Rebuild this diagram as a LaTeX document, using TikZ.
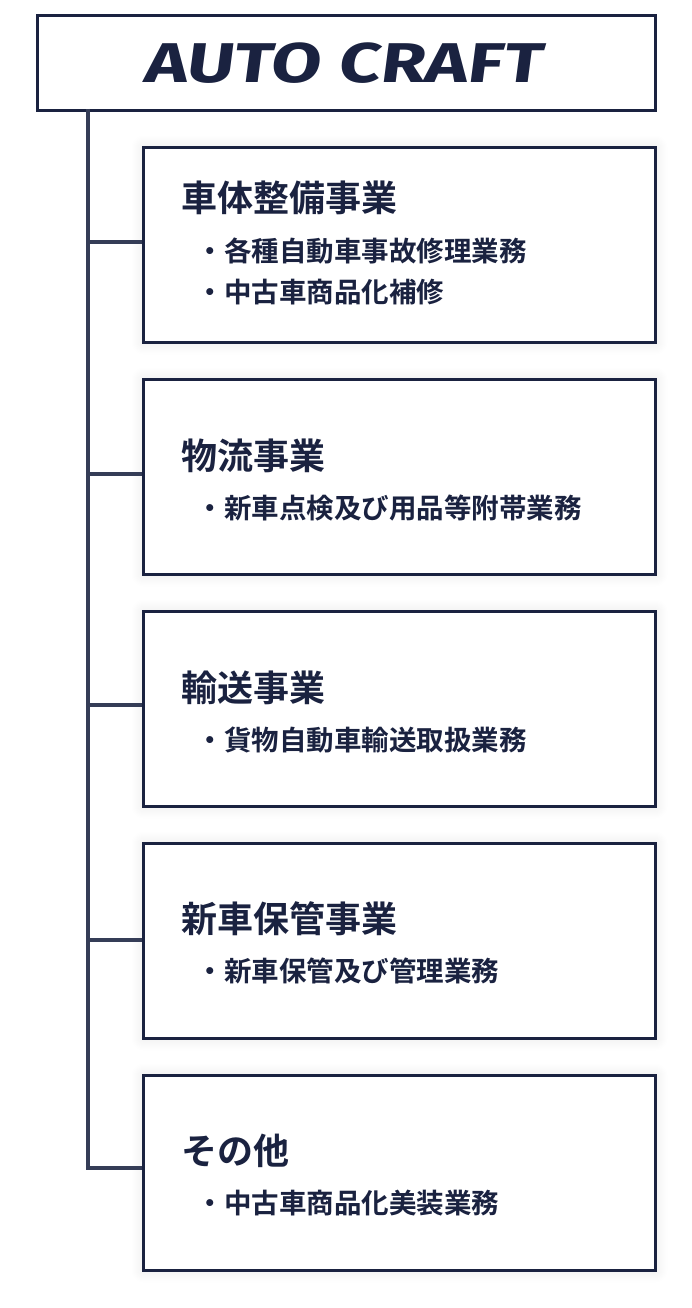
\documentclass[tikz,border=0pt]{standalone}
\usepackage{fontspec}
\newfontfamily\cjk{Noto Sans CJK JP}[BoldFont={* Bold}]
\newfontfamily\logo{Fira Sans}[BoldFont={* Bold}]
\usetikzlibrary{shadows.blur}
\definecolor{navy}{HTML}{1A2240}
\begin{document}
\begin{tikzpicture}[x=1pt,y=-1pt,
  frame/.style={draw=navy,line width=3pt,fill=white},
  biz/.style={frame,minimum width=512pt,minimum height=195pt,anchor=north west,blur shadow={shadow xshift=0pt,shadow yshift=0pt,shadow blur steps=12,shadow blur radius=12pt,shadow scale=1.0,shadow opacity=10}},
  ttl/.style={anchor=west,text=navy,font=\cjk\bfseries\fontsize{36}{40}\selectfont},
  itm/.style={anchor=west,text=navy,font=\cjk\bfseries\fontsize{27.5}{30}\selectfont},
  conn/.style={draw=navy!88,line width=3.5pt}]
\useasboundingbox (0,0) rectangle (692,1308);
\node[frame,minimum width=618pt,minimum height=95pt,anchor=north west] (top) at (36,14) {};
\node[text=navy,font=\logo\bfseries\fontsize{56}{60}\selectfont,xscale=1.3,xslant=0.1] (logo) at (345,63) {AUTO CRAFT};
\coordinate (trunk) at (88,109);
\foreach \i/\y/\b in {1/146/242,2/378/474,3/610/705,4/842/940,5/1074/1168}{
  \node[biz] (b\i) at (142,\y) {};
  \coordinate (j\i) at (88,\b);
  \draw[conn] (j\i) -- (b\i.west |- j\i);
}
\draw[conn] (trunk) -- ([yshift=-1.75pt]j5);
\node[ttl] (t1) at (178,198) {車体整備事業};
\node[itm] (i1a) at (193,251) {・各種自動車事故修理業務};
\node[itm] (i1b) at (193,292) {・中古車商品化補修};
\node[ttl] (t2) at (178,456) {物流事業};
\node[itm] (i2) at (193,508) {・新車点検及び用品等附帯業務};
\node[ttl] (t3) at (178,688) {輸送事業};
\node[itm] (i3) at (193,740) {・貨物自動車輸送取扱業務};
\node[ttl] (t4) at (178,919) {新車保管事業};
\node[itm] (i4) at (193,971) {・新車保管及び管理業務};
\node[ttl] (t5) at (178,1151) {その他};
\node[itm] (i5) at (193,1203) {・中古車商品化美装業務};
\end{tikzpicture}
\end{document}
